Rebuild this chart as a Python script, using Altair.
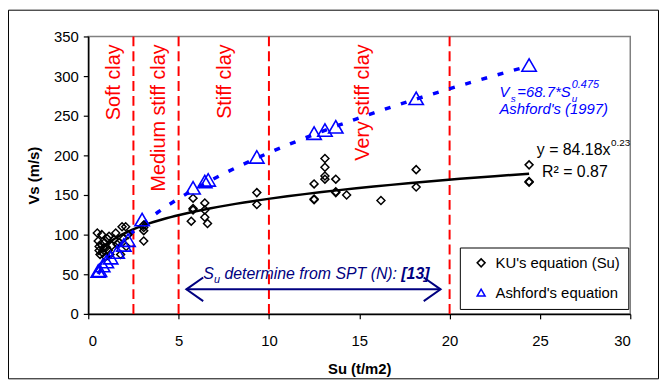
import altair as alt
import pandas as pd

FONT = "Liberation Sans"
RED = "#FF0000"
BLUE = "#0000FF"
NAVY = "#000080"

KU = "KU's equation (Su)"
ASH = "Ashford's equation"

# KU's measured points (Su in t/m2, Vs in m/s)
ku_su = [0.5, 0.55, 0.6, 0.6, 0.65, 0.7, 0.75, 0.8, 0.85, 0.9, 0.95, 1.0, 1.05, 1.1,
         1.15, 1.2, 1.3, 1.43, 1.52, 1.6, 1.7, 1.79, 1.87, 1.95, 2.07, 2.1, 2.2,
         3.07, 3.07, 3.07, 3.07,
         5.8, 5.8, 5.8, 5.7, 6.45, 6.45, 6.45, 6.6, 9.33, 9.33,
         12.5, 12.5, 12.5, 13.1, 13.1, 13.1, 13.1, 13.7, 13.7, 13.7, 14.3, 16.2,
         18.15, 18.15, 24.4, 24.4, 24.4]
ku_vs = [102, 92, 85, 80, 75, 88, 100, 77, 83, 90, 72, 84, 95, 80,
         98, 75, 86, 94, 102, 88, 90, 75, 110, 95, 110, 85, 100,
         92, 105, 109, 112,
         146, 133, 131, 117, 140, 131, 122, 114, 153, 138,
         164, 145, 144, 196, 185, 174, 170, 170, 154, 153, 150, 143,
         182, 160, 188, 167, 166]

# Ashford's equation points
ash_su = [0.55, 0.62, 0.8, 1.0, 1.24, 1.6, 1.97, 2.2, 2.98, 5.8, 6.45, 6.64,
          9.33, 12.5, 13.1, 13.7, 18.15, 24.4]
ash_vs = [54, 55, 61, 66, 71, 78, 87, 93, 119, 159, 167, 169,
          198, 228, 232, 236, 272, 314]

zone_bounds = [2.5, 5, 10, 20]
zone_labels = ["Soft clay", "Medium stiff clay", "Stiff clay", "Very stiff clay"]
zone_label_su = [1.43, 3.9, 7.55, 15.23]

x_ticks = [0, 5, 10, 15, 20, 25, 30]
y_ticks = [0, 50, 100, 150, 200, 250, 300, 350]

pts = pd.DataFrame({
    "su": ku_su + ash_su,
    "vs": ku_vs + ash_vs,
    "series": [KU] * len(ku_su) + [ASH] * len(ash_su),
})

X = alt.X("su:Q", scale=alt.Scale(domain=[0, 30], nice=False, zero=False),
          axis=alt.Axis(values=x_ticks, title="Su (t/m2)", grid=False,
                        tickSize=5, labelPadding=15, titlePadding=13))
Y = alt.Y("vs:Q", scale=alt.Scale(domain=[0, 350], nice=False),
          axis=alt.Axis(values=y_ticks, title="Vs (m/s)", grid=False,
                        tickSize=5, labelPadding=5, titlePadding=12))

legend = alt.Legend(title=None, orient="none", legendX=375, legendY=213,
                    strokeColor="black", fillColor="white", padding=8,
                    symbolOffset=6, labelOffset=7, rowPadding=14,
                    labelFontSize=15, labelFont=FONT, symbolSize=64,
                    symbolStrokeWidth=1.5, labelColor="black")
color_enc = alt.Color("series:N", scale=alt.Scale(domain=[KU, ASH], range=["#000000", BLUE]), legend=legend)
shape_enc = alt.Shape("series:N", scale=alt.Scale(domain=[KU, ASH], range=["diamond", "triangle-up"]), legend=legend)

rules = alt.Chart(pd.DataFrame({"su": zone_bounds})).mark_rule(
    color=RED, strokeWidth=2, strokeDash=[10, 5]).encode(x=X)

zone_text = alt.Chart(pd.DataFrame({"su": zone_label_su, "vs": [340] * 4, "t": zone_labels})).mark_text(
    angle=270, align="right", baseline="middle", fontSize=20, color=RED, font=FONT
).encode(x=X, y=Y, text="t:N")

ku_fit = alt.Chart(pts).transform_filter(alt.datum.series == KU).transform_regression(
    "su", "vs", method="pow", extent=[0.5, 24.4]
).mark_line(color="black", strokeWidth=2.5).encode(x=X, y=Y)

ash_fit = alt.Chart(pts).transform_filter(alt.datum.series == ASH).transform_regression(
    "su", "vs", method="pow", extent=[0.55, 24.4]
).mark_line(color=BLUE, strokeWidth=3.5, strokeDash=[6, 11]).encode(x=X, y=Y)

ku_pts = alt.Chart(pts).transform_filter(alt.datum.series == KU).mark_point(
    filled=False, strokeWidth=1.5, opacity=1, size=64
).encode(x=X, y=Y, color=color_enc, shape=shape_enc)

ash_pts = alt.Chart(pts).transform_filter(alt.datum.series == ASH).mark_point(
    filled=False, strokeWidth=1.6, opacity=1, size=210
).encode(x=X, y=Y, color=color_enc, shape=shape_enc)


def label(su, vs, text, size, color, dx=0, dy=0, style="normal", weight="normal",
          align="left", baseline="alphabetic"):
    df = pd.DataFrame({"su": [su], "vs": [vs], "t": [text]})
    return alt.Chart(df).mark_text(
        fontSize=size, color=color, dx=dx, dy=dy, fontStyle=style, fontWeight=weight,
        align=align, baseline=baseline, font=FONT
    ).encode(x=X, y=Y, text="t:N")


ann = [
    # Ashford formula
    label(22.76, 273, "V", 15, BLUE, style="italic"),
    label(22.76, 273, "s", 10, BLUE, dx=11.5, dy=5, style="italic"),
    label(22.76, 273, "=68.7*S", 15, BLUE, dx=18, style="italic"),
    label(22.76, 273, "u", 10, BLUE, dx=73, dy=5, style="italic"),
    label(22.76, 273, "0.475", 11, BLUE, dx=73, dy=-10, style="italic"),
    label(22.76, 252.5, "Ashford's (1997)", 15, BLUE, style="italic"),
    # KU trend equation
    label(28.9, 200, "y = 84.18x", 16, "black", align="right"),
    label(28.9, 200, "0.23", 10, "black", dx=0.5, dy=-9),
    label(25.12, 173, "R² = 0.87", 16, "black"),
    # SPT note
    label(6.36, 43.75, "S", 16, NAVY, style="italic"),
    label(6.36, 43.75, "u", 11, NAVY, dx=11, dy=4, style="italic"),
    label(6.36, 43.75, "determine from SPT (N):", 16, NAVY, dx=21.5, style="italic"),
    label(6.36, 43.75, "[13]", 16, NAVY, dx=200, style="italic", weight="bold"),
]

arrow = alt.Chart(pd.DataFrame({"su": [5.43], "su2": [19.5], "vs": [31]})).mark_rule(
    color=NAVY, strokeWidth=2).encode(x=X, x2="su2:Q", y=Y)
head_l = alt.Chart(pd.DataFrame({"su": [5.43], "vs": [31]})).mark_point(
    shape="M1,-0.7L0,0L1,0.7", size=1156, filled=False, color=NAVY, strokeWidth=2, opacity=1
).encode(x=X, y=Y)
head_r = alt.Chart(pd.DataFrame({"su": [19.5], "vs": [31]})).mark_point(
    shape="M-1,-0.7L0,0L-1,0.7", size=1156, filled=False, color=NAVY, strokeWidth=2, opacity=1
).encode(x=X, y=Y)

frame = alt.Chart(pd.DataFrame({"a": [0]})).mark_rect(
    fillOpacity=0, stroke="black", strokeWidth=1
).encode(x=alt.value(-80.5), x2=alt.value(575.5), y=alt.value(-26.5), y2=alt.value(345.5))

chart = alt.layer(
    frame, rules, zone_text, ku_fit, ash_fit, ku_pts, ash_pts, arrow, head_l, head_r, *ann
).properties(
    width=547, height=280,
    padding={"left": 81, "top": 27, "right": 29, "bottom": 66},
    autosize=alt.AutoSizeParams(type="none"),
    background="white",
).configure_view(
    stroke="#808080", strokeWidth=1.5
).configure_axis(
    labelFont=FONT, titleFont=FONT, labelFontSize=15, titleFontSize=15,
    titleFontWeight="bold", labelColor="black", titleColor="black",
    domainColor="black", tickColor="black", domainWidth=1.5, tickWidth=1.2,
)

chart.save("out.html", embed_options={"renderer": "svg", "actions": False})
